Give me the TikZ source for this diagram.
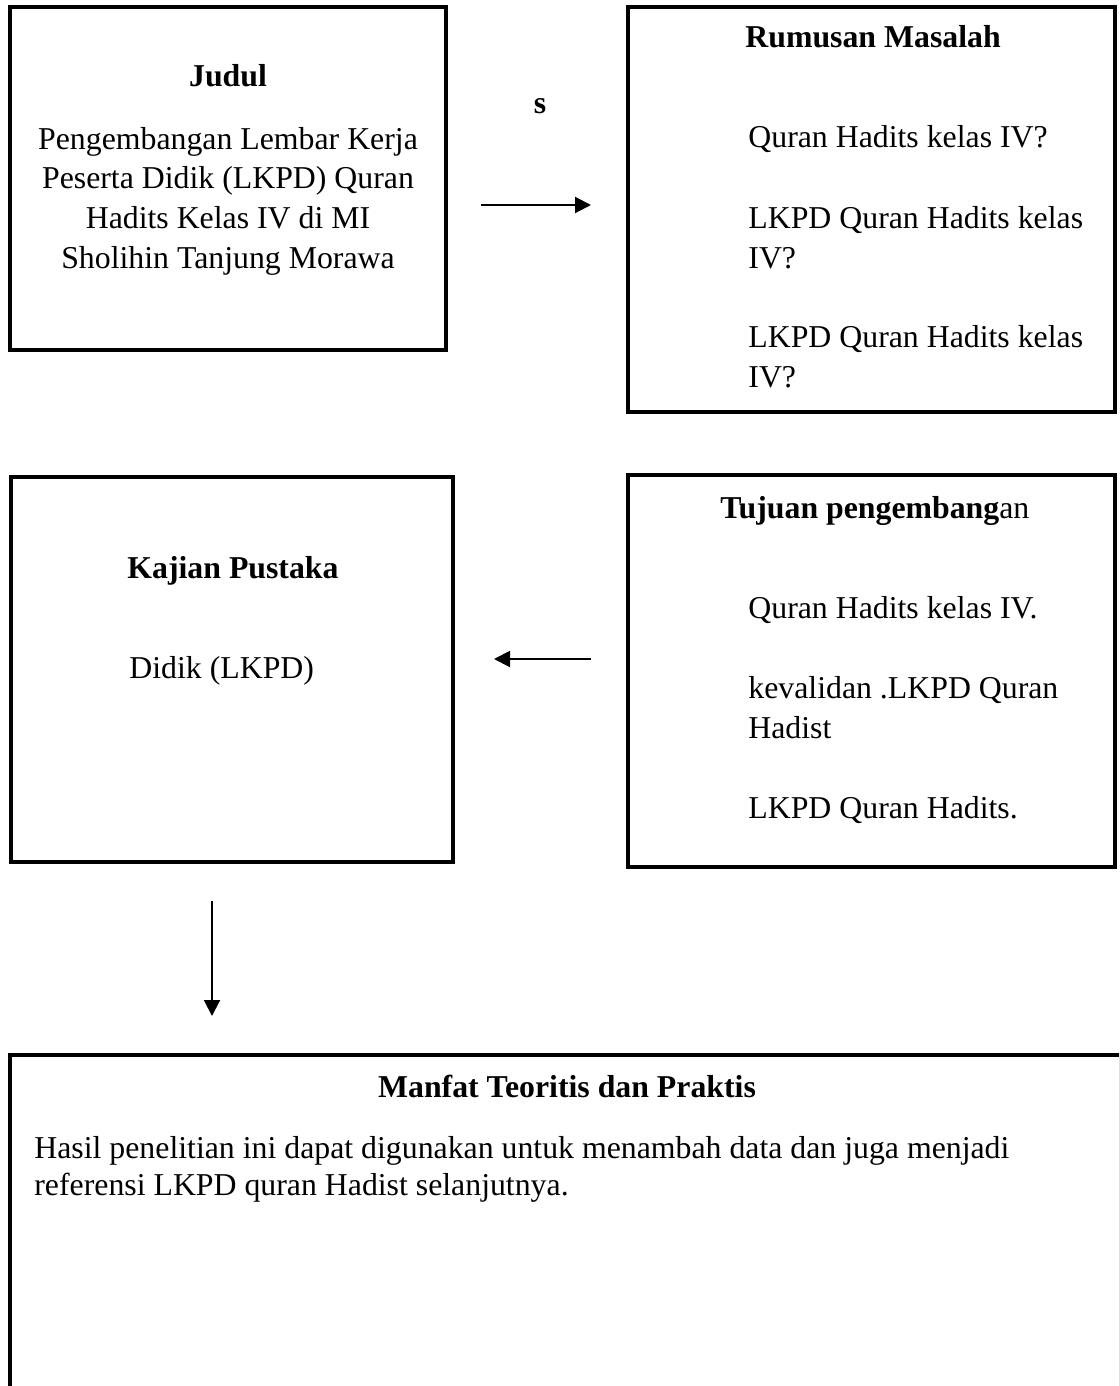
\documentclass[tikz,border=0pt]{standalone}
\usepackage{fontspec}
\setmainfont{Liberation Serif}
\usetikzlibrary{arrows.meta}
\begin{document}
\begin{tikzpicture}[x=0.5pt,y=-0.5pt,
  box/.style={draw, line width=2pt, rectangle, inner sep=0pt},
  txt/.style={inner sep=0pt, anchor=base west, font=\fontsize{15.9pt}{20pt}\selectfont},
  ctxt/.style={txt, anchor=base},
  ttl/.style={inner sep=0pt, anchor=base, font=\fontsize{15.9pt}{20pt}\selectfont\bfseries},
  arr/.style={line width=1pt, -{Triangle[length=8pt,width=8pt]}}]
\useasboundingbox (0,0) rectangle (1119,1386);
\clip (0,0) rectangle (1119,1386);
\fill[white] (0,0) rectangle (1119,1386);

% boxes
\node[box, minimum width=218pt, minimum height=171.5pt] (judul) at (228,178.5) {};
\node[box, minimum width=243.5pt, minimum height=202.5pt] (rumusan) at (871.5,209.5) {};
\node[box, minimum width=243.5pt, minimum height=196pt] (tujuan) at (871.5,671) {};
\node[box, minimum width=221pt, minimum height=192.5pt] (kajian) at (232,669.5) {};
\node[box, minimum width=555.5pt, minimum height=182.5pt] (manfat) at (565.5,1237.5) {};

% Judul
\node[ttl] (jt) at (228,87) {Judul};
\node[ctxt] (j1) at (228,149) {Pengembangan Lembar Kerja};
\node[ctxt] (j2) at (228,188) {Peserta Didik (LKPD) Quran};
\node[ctxt] (j3) at (228,228) {Hadits Kelas IV di MI};
\node[ctxt] (j4) at (228,268) {Sholihin Tanjung Morawa};

% s
\node[ttl] (s) at (540,113) {s};

% Rumusan
\node[ttl, anchor=base west] (rt) at (745,48) {Rumusan Masalah};
\node[txt] (r1) at (748,148) {Quran Hadits kelas IV?};
\node[txt] (r2) at (748,228) {LKPD Quran Hadits kelas};
\node[txt] (r3) at (748,268) {IV?};
\node[txt] (r4) at (748,347) {LKPD Quran Hadits kelas};
\node[txt] (r5) at (748,387) {IV?};

% Tujuan
\node[txt] (tt) at (720,518) {\textbf{Tujuan pengembang}an};
\node[txt] (u1) at (748,618) {Quran Hadits kelas IV.};
\node[txt] (u2) at (748,698) {kevalidan .LKPD Quran};
\node[txt] (u3) at (748,738) {Hadist};
\node[txt] (u4) at (748,818) {LKPD Quran Hadits.};

% Kajian
\node[ttl, anchor=base west] (kt) at (127,578) {Kajian Pustaka};
\node[txt] (k1) at (129,678) {Didik (LKPD)};

% Manfat
\node[ttl] (mt) at (567,1097) {Manfat Teoritis dan Praktis};
\node[txt] (m1) at (34,1158) {Hasil penelitian ini dapat digunakan untuk menambah data dan juga menjadi};
\node[txt] (m2) at (34,1195) {referensi LKPD quran Hadist selanjutnya.};

% arrows
\coordinate (ya) at (0,205);
\coordinate (yb) at (0,659);
\coordinate (xc) at (212,0);
\draw[arr, shorten <=16.5pt, shorten >=17.5pt] (judul.east |- ya) -- (rumusan.west |- ya);
\draw[arr, shorten <=17.5pt, shorten >=19.5pt] (tujuan.west |- yb) -- (kajian.east |- yb);
\draw[arr, shorten <=18.5pt, shorten >=18.5pt] (kajian.south -| xc) -- (manfat.north -| xc);
\end{tikzpicture}
\end{document}
